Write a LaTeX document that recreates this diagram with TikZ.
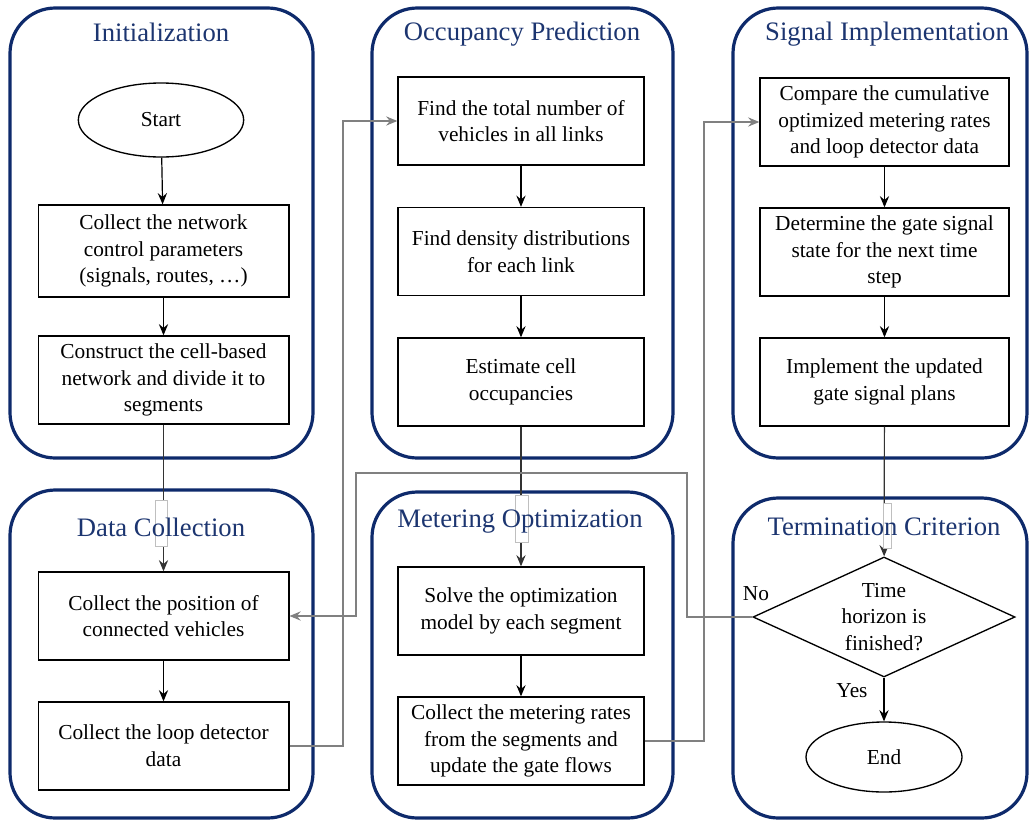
\documentclass[tikz,border=0pt]{standalone}
\usepackage{fontspec}
\setmainfont{Liberation Serif}
\usetikzlibrary{shapes.geometric,arrows.meta}
\definecolor{navy}{HTML}{0E2A6B}
\definecolor{ttlc}{HTML}{1C3570}
\begin{document}
\begin{tikzpicture}[x=0.75pt,y=-0.75pt,
 panel/.style={draw=navy, line width=2.4pt, rounded corners=34pt},
 ttl/.style={text=ttlc, font=\fontsize{20}{24}\selectfont, inner sep=0pt},
 stepbox/.style={draw, line width=1pt, minimum width=188pt, minimum height=66pt, align=center, font=\fontsize{16}{20}\selectfont, inner sep=2pt},
 term/.style={draw, ellipse, line width=1pt, align=center, font=\fontsize{16}{20}\selectfont, inner sep=0pt},
 lbl/.style={font=\fontsize{16}{20}\selectfont, inner sep=0pt},
 arr/.style={-{Stealth[length=8.5pt,width=7pt,inset=3pt]}, line width=0.9pt},
 route/.style={arr, draw=black!50},
 tbox/.style={draw=black!25, fill=white, line width=0.6pt},
]
\useasboundingbox (0,0) rectangle (1029,822);
% panels
\draw[panel] (10,8) rectangle (313,458);
\draw[panel] (372,8) rectangle (673,458);
\draw[panel] (733,8) rectangle (1027,458);
\draw[panel] (10,490) rectangle (313,818);
\draw[panel] (372,492) rectangle (673,818);
\draw[panel] (733,498) rectangle (1027,818);

% nodes
\node[term, minimum width=124pt, minimum height=55.5pt] (start) at (161,120) {Start};
\node[stepbox, minimum height=69pt] (netw) at (163.5,251) {Collect the network\\control parameters\\(signals, routes, \dots)};
\node[stepbox] (cons) at (163.5,380) {Construct the cell-based\\network and divide it to\\segments};
\node[stepbox, minimum width=184.5pt] (total) at (521,121) {Find the total number of\\vehicles in all links};
\node[stepbox, minimum width=184.5pt] (dens) at (521,251.5) {Find density distributions\\for each link};
\node[stepbox, minimum width=184.5pt] (est) at (521,382) {Estimate cell\\occupancies};
\node[stepbox, minimum width=186.75pt] (comp) at (884.5,122) {Compare the cumulative\\optimized metering rates\\and loop detector data};
\node[stepbox, minimum width=186.75pt] (det) at (884.5,252) {Determine the gate signal\\state for the next time\\step};
\node[stepbox, minimum width=186.75pt] (impl) at (884.5,382) {Implement the updated\\gate signal plans};
\node[stepbox] (pos) at (163.5,616) {Collect the position of\\connected vehicles};
\node[stepbox] (loop) at (163.5,746) {Collect the loop detector\\data};
\node[stepbox, minimum width=184.5pt] (solve) at (521,611) {Solve the optimization\\model by each segment};
\node[stepbox, minimum width=184.5pt] (meter) at (521,741) {Collect the metering rates\\from the segments and\\update the gate flows};
\node[draw, diamond, line width=1pt, aspect=2.18, minimum width=196.5pt, minimum height=90pt, inner sep=0pt, align=center, font=\fontsize{16}{20}\selectfont] (dec) at (884,617) {Time\\horizon is\\finished?};
\node[term, minimum width=117pt, minimum height=52.5pt] (end) at (884,757) {End};

% short connectors
\draw[arr] (start) -- (netw);
\draw[arr] (netw) -- (cons);
\draw[arr] (total) -- (dens);
\draw[arr] (dens) -- (est);
\draw[arr] (comp) -- (det);
\draw[arr] (det) -- (impl);
\draw[arr] (pos) -- (loop);
\draw[arr] (solve) -- (meter);
\draw[arr] (dec) -- (end);
\draw[arr, draw=black!80] (cons) -- (pos);
\draw[arr, draw=black!80] (est) -- (solve);
\draw[arr, draw=black!80] (impl) -- (dec);

% routed connectors
\coordinate (n1) at (687,473);
\coordinate (n2) at (356,473);
\draw[route] (dec.west) -| (n1) -- (n2) |- (pos.east);
\coordinate (l1) at (343,121);
\draw[route] (loop.east) -| (l1) -- (total.west);
\coordinate (m1) at (704,122);
\draw[route] (meter.east) -| (m1) -- (comp.west);

% text frame remnants
\draw[tbox] (155,500) rectangle (167,546);
\draw[tbox] (515,495) rectangle (528,542);
\draw[tbox] (883,503) rectangle (891,548);

% titles
\node[ttl] (t1) at (161,32) {Initialization};
\node[ttl] (t2) at (522,34) {Occupancy Prediction};
\node[ttl] (t3) at (887,34) {Signal Implementation};
\node[ttl] (t4) at (161,527) {Data Collection};
\node[ttl] (t5) at (520,522) {Metering Optimization};
\node[ttl] (t6) at (884,527) {Termination Criterion};

% labels
\node[lbl] (no) at (756,594) {No};
\node[lbl] (yes) at (852,691) {Yes};
\end{tikzpicture}
\end{document}
